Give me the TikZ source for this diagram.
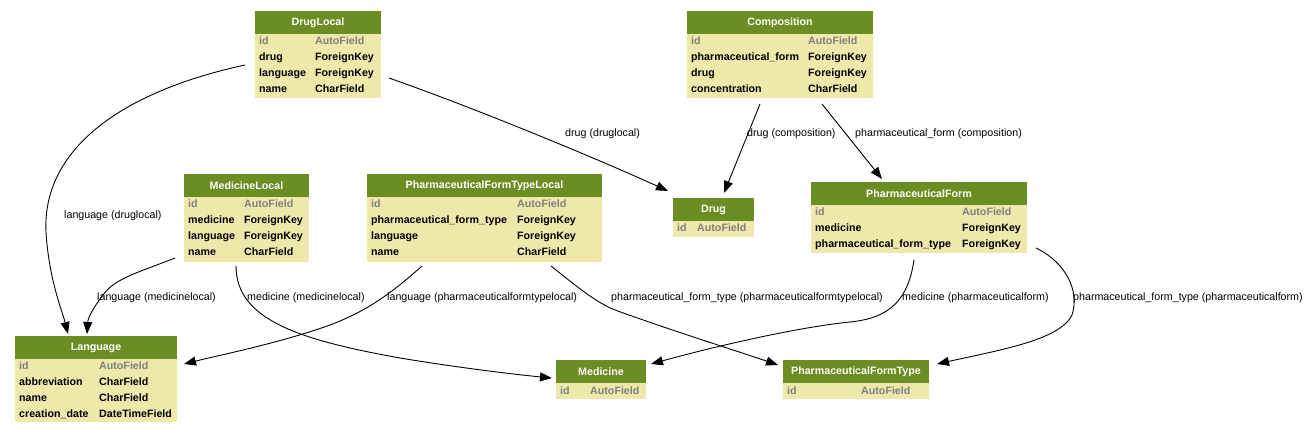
\documentclass[tikz,border=0pt]{standalone}
\usepackage{fontspec}
\setmainfont{Liberation Sans}
\usetikzlibrary{arrows.meta}
\definecolor{hdr}{HTML}{6B8E23}
\definecolor{bdy}{HTML}{EEE8AA}
\definecolor{idgray}{HTML}{808080}
\tikzset{
  tbox/.style={anchor=north west, fill=bdy, inner sep=0pt, outer sep=0pt},
  thead/.style={anchor=north west, fill=hdr, inner sep=0pt, outer sep=0pt, minimum height=23pt, text=white, font=\fontsize{10.67}{12}\selectfont\bfseries},
  fld/.style={anchor=base west, inner sep=0pt, font=\fontsize{10.67}{12}\selectfont\bfseries},
  idf/.style={fld, text=idgray},
  elabel/.style={anchor=base west, inner sep=0pt, font=\fontsize{10.67}{12}\selectfont},
  fk/.style={draw=black, line width=0.9pt, -{Triangle[length=12pt,width=9pt]}},
}
\newcommand{\ttable}[6]{%
  \node[tbox, minimum width=#4pt, minimum height=#5pt] (#1) at (#2,#3) {};
  \node[thead, minimum width=#4pt] (#1h) at (#1.north west) {#6};}
\newcommand{\trow}[7]{%
  \node[#7] (#1n) at (#2,#4) {#5};
  \node[#7] (#1t) at (#3,#4) {#6};}
\begin{document}
\begin{tikzpicture}[x=1pt,y=-1pt]
\useasboundingbox (0,0) rectangle (1311,435);
\fill[white] (0,0) rectangle (1311,435);

% DrugLocal
\ttable{DrugLocal}{255}{11}{126}{87}{DrugLocal}
\trow{DLa}{259}{315}{45}{id}{AutoField}{idf}
\trow{DLb}{259}{315}{61}{drug}{ForeignKey}{fld}
\trow{DLc}{259}{315}{77}{language}{ForeignKey}{fld}
\trow{DLd}{259}{315}{93}{name}{CharField}{fld}

% Composition
\ttable{Composition}{687}{11}{186}{87}{Composition}
\trow{COa}{691}{808}{45}{id}{AutoField}{idf}
\trow{COb}{691}{808}{61}{pharmaceutical\_form}{ForeignKey}{fld}
\trow{COc}{691}{808}{77}{drug}{ForeignKey}{fld}
\trow{COd}{691}{808}{93}{concentration}{CharField}{fld}

% MedicineLocal
\ttable{MedicineLocal}{184}{174}{125}{88}{MedicineLocal}
\trow{MLa}{188}{244}{208}{id}{AutoField}{idf}
\trow{MLb}{188}{244}{224}{medicine}{ForeignKey}{fld}
\trow{MLc}{188}{244}{240}{language}{ForeignKey}{fld}
\trow{MLd}{188}{244}{256}{name}{CharField}{fld}

% PharmaceuticalFormTypeLocal
\ttable{PFTL}{367}{174}{235}{88}{PharmaceuticalFormTypeLocal}
\trow{PLa}{371}{517}{208}{id}{AutoField}{idf}
\trow{PLb}{371}{517}{224}{pharmaceutical\_form\_type}{ForeignKey}{fld}
\trow{PLc}{371}{517}{240}{language}{ForeignKey}{fld}
\trow{PLd}{371}{517}{256}{name}{CharField}{fld}

% Drug
\ttable{Drug}{673}{198}{81}{39}{Drug}
\trow{DRa}{677}{697}{232}{id}{AutoField}{idf}

% PharmaceuticalForm
\ttable{PF}{811}{182}{216}{71}{PharmaceuticalForm}
\trow{PFa}{815}{962}{216}{id}{AutoField}{idf}
\trow{PFb}{815}{962}{232}{medicine}{ForeignKey}{fld}
\trow{PFc}{815}{962}{248}{pharmaceutical\_form\_type}{ForeignKey}{fld}

% Language
\ttable{Language}{15}{336}{162}{86}{Language}
\trow{LAa}{19}{99}{369}{id}{AutoField}{idf}
\trow{LAb}{19}{99}{385}{abbreviation}{CharField}{fld}
\trow{LAc}{19}{99}{401}{name}{CharField}{fld}
\trow{LAd}{19}{99}{417}{creation\_date}{DateTimeField}{fld}

% Medicine
\ttable{Medicine}{556}{360}{90}{39}{Medicine}
\trow{MEa}{560}{590}{394}{id}{AutoField}{idf}

% PharmaceuticalFormType
\ttable{PFT}{783}{360}{146}{39}{PharmaceuticalFormType}
\trow{PTa}{787}{861}{394}{id}{AutoField}{idf}

% connectors
\draw[fk] ([shift={(-10,54)}]DrugLocal.north west) .. controls (120,92) and (42,150) .. (46,232) .. controls (49,280) and (62,310) .. ([shift={(53,-2)}]Language.north west);
\draw[fk] ([shift={(134,67)}]DrugLocal.north west) .. controls (480,110) and (600,160) .. ([shift={(-5,-7)}]Drug.north west);
\draw[fk] ([shift={(73,93)}]Composition.north west) -- ([shift={(51,-5)}]Drug.north west);
\draw[fk] ([shift={(135,93)}]Composition.north west) -- ([shift={(71,-3)}]PF.north west);
\draw[fk] ([shift={(-9,84)}]MedicineLocal.north west) .. controls (140,272) and (115,278) .. (103,295) .. controls (93,308) and (88,318) .. ([shift={(72,-2)}]Language.north west);
\draw[fk] ([shift={(52,92)}]MedicineLocal.north west) .. controls (236,320) and (300,340) .. (400,358) .. controls (460,368) and (520,375) .. ([shift={(-4,18)}]Medicine.north west);
\draw[fk] ([shift={(55,92)}]PFTL.north west) .. controls (395,290) and (370,310) .. (330,325) .. controls (280,343) and (220,355) .. ([shift={(169,28)}]Language.north west);
\draw[fk] ([shift={(184,92)}]PFTL.north west) .. controls (575,285) and (595,302) .. (615,310) .. controls (670,330) and (740,352) .. ([shift={(-5,5)}]PFT.north west);
\draw[fk] ([shift={(103,78)}]PF.north west) .. controls (908,300) and (890,318) .. (850,322) .. controls (800,327) and (720,345) .. ([shift={(95,4)}]Medicine.north west);
\draw[fk] ([shift={(225,66)}]PF.north west) .. controls (1065,262) and (1080,290) .. (1072,315) .. controls (1060,340) and (1000,350) .. ([shift={(154,4)}]PFT.north west);

% labels
\node[elabel] (L1) at (64,219) {language (druglocal)};
\node[elabel] (L2) at (565,137) {drug (druglocal)};
\node[elabel] (L3) at (747,137) {drug (composition)};
\node[elabel] (L4) at (855,137) {pharmaceutical\_form (composition)};
\node[elabel] (L5) at (97,301) {language (medicinelocal)};
\node[elabel] (L6) at (247,301) {medicine (medicinelocal)};
\node[elabel] (L7) at (387,301) {language (pharmaceuticalformtypelocal)};
\node[elabel] (L8) at (611,301) {pharmaceutical\_form\_type (pharmaceuticalformtypelocal)};
\node[elabel] (L9) at (902,301) {medicine (pharmaceuticalform)};
\node[elabel] (L10) at (1073,301) {pharmaceutical\_form\_type (pharmaceuticalform)};
\end{tikzpicture}
\end{document}
